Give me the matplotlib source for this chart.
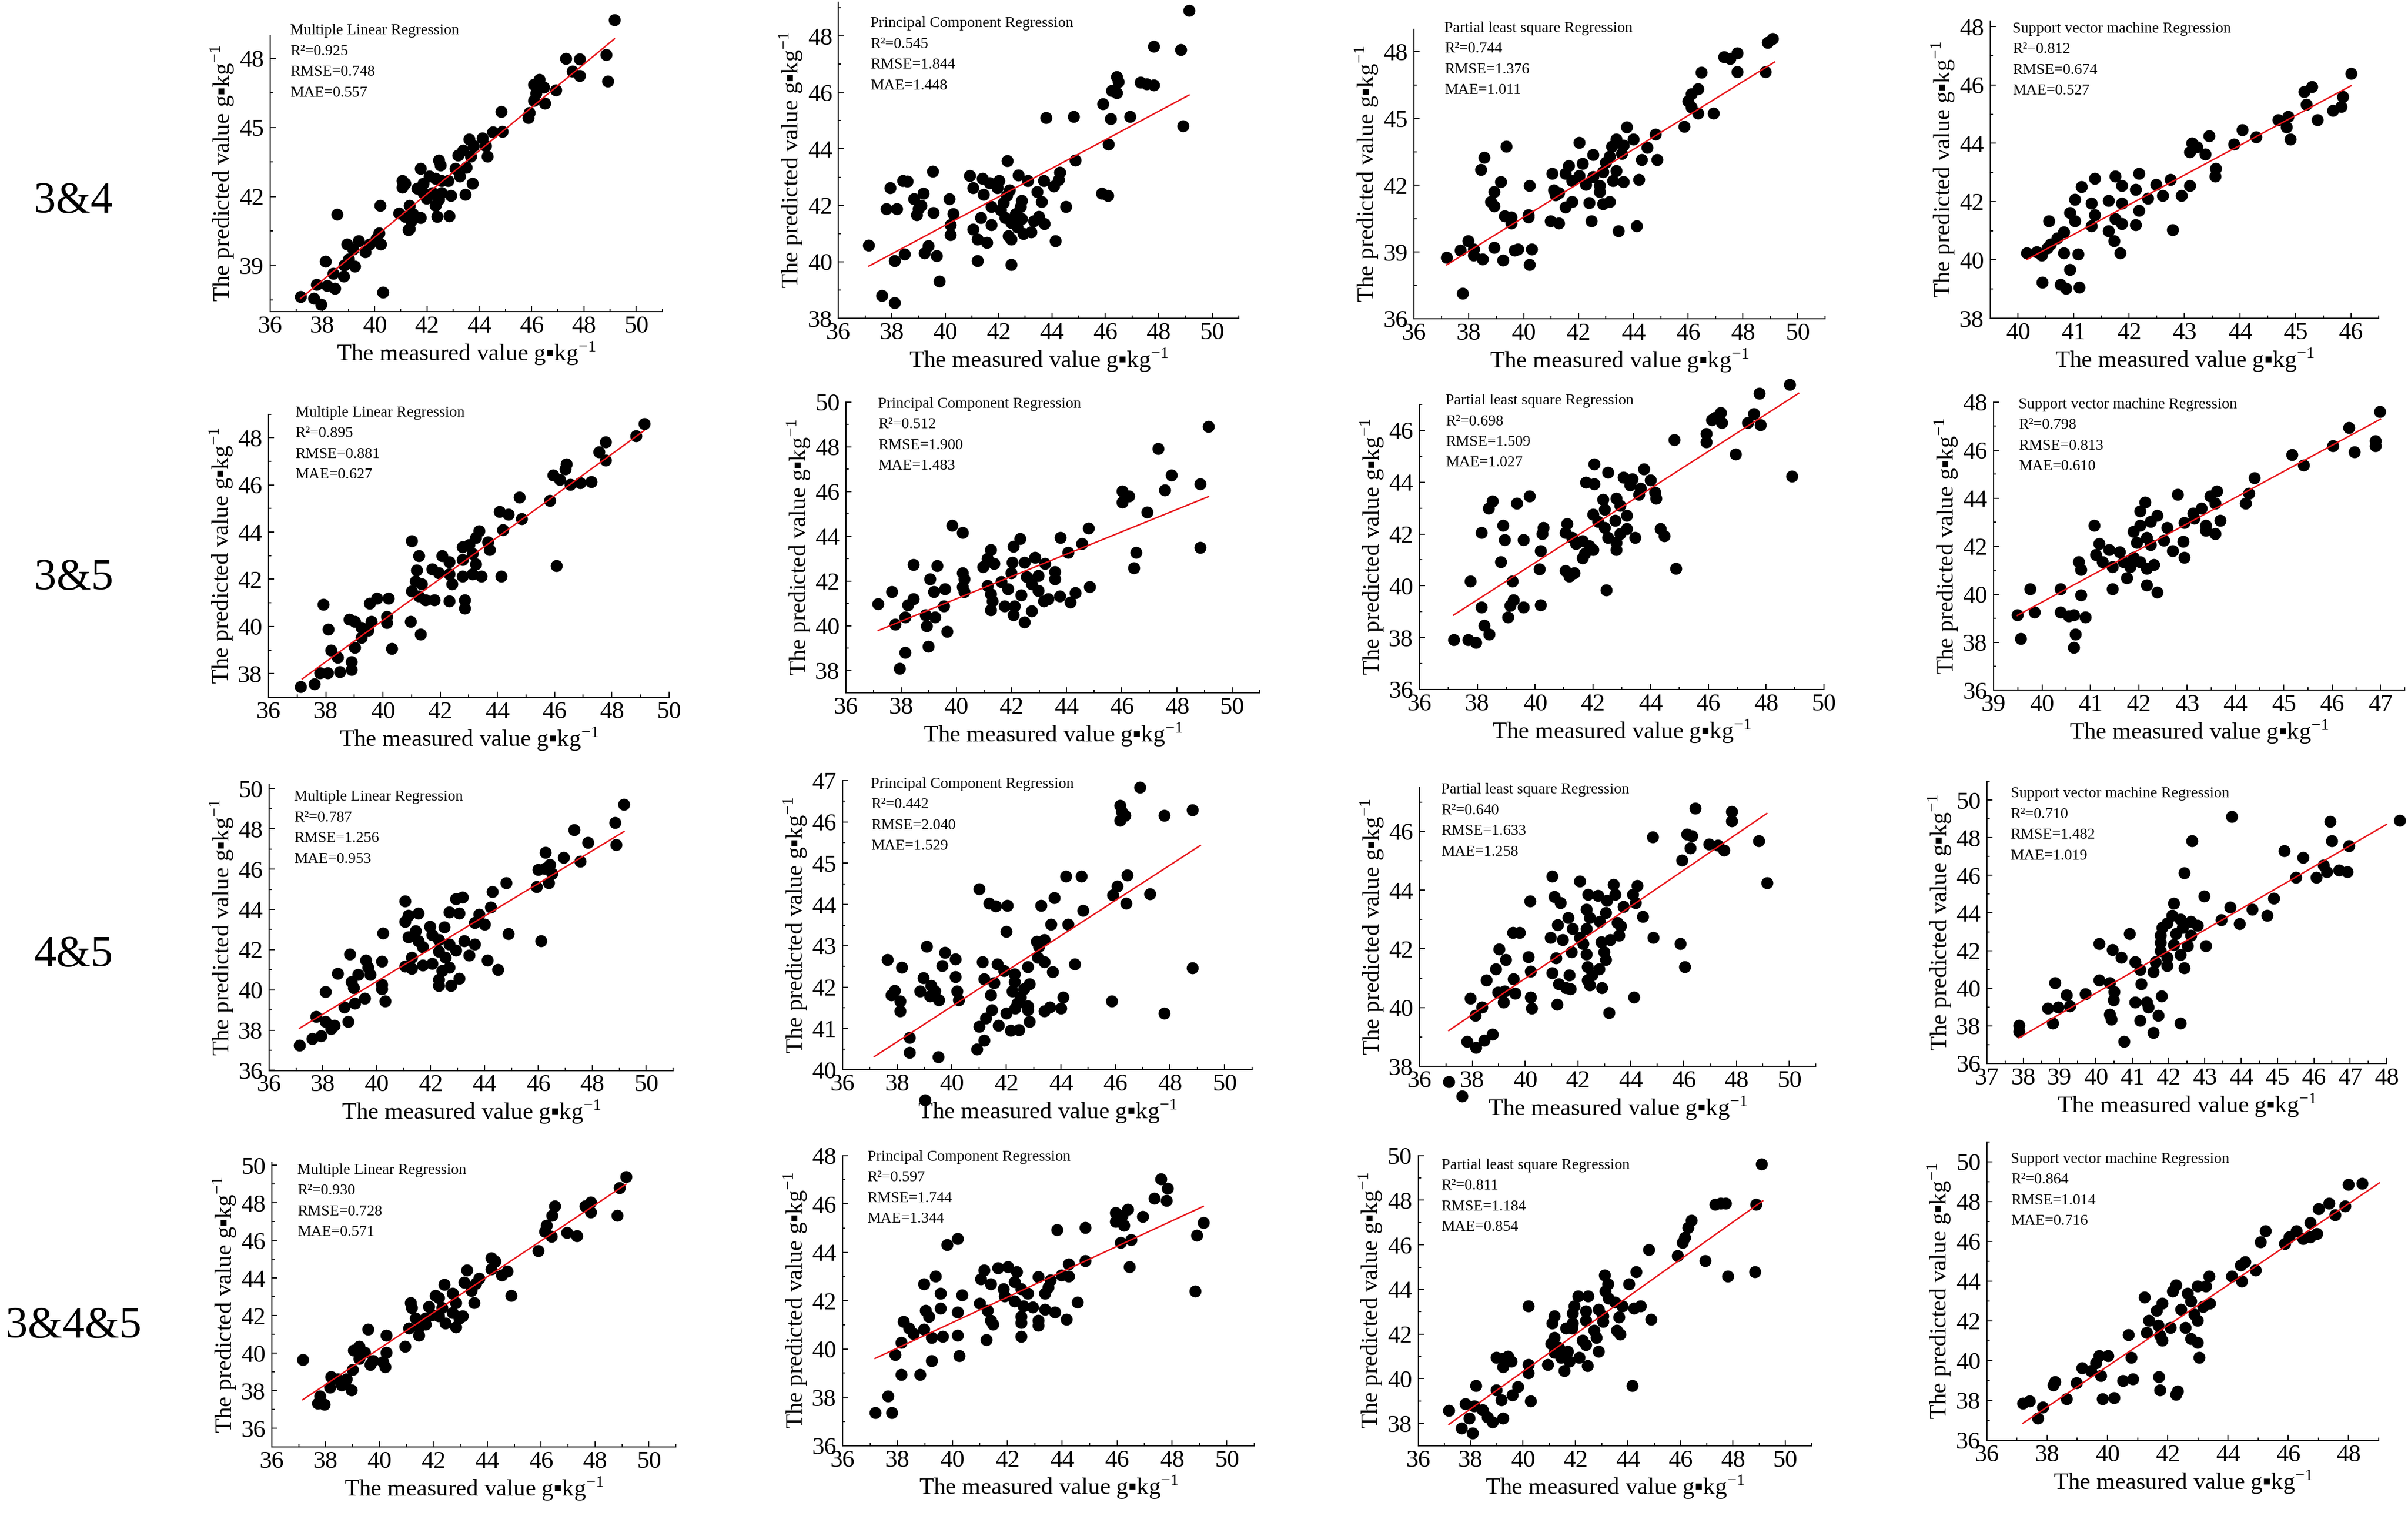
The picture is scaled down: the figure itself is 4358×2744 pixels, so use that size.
import numpy as np
import matplotlib
matplotlib.use('Agg')
import matplotlib.pyplot as plt
from matplotlib.ticker import MultipleLocator

plt.rcParams['font.family'] = ['Liberation Serif', 'DejaVu Serif']
plt.rcParams['mathtext.fontset'] = 'custom'
plt.rcParams['mathtext.rm'] = 'Liberation Serif'
plt.rcParams['mathtext.fallback'] = 'stix'

# ---- measured / predicted points, one list of (measured, predicted) per panel ----
mlr_34 = [[49.17,49.68],[48.86,48.17],[48.91,47.00],[47.32,48.00],[47.83,47.96],[47.57,47.45],[47.84,47.24],[46.93,46.62],[46.23,46.92],[46.08,46.87],[46.29,47.08],[46.47,46.74],[46.17,46.49],[46.08,46.18],[46.50,46.04],[45.92,45.65],[45.88,45.43],[44.83,45.68],[44.89,44.83],[44.52,44.80],[44.13,44.53],[44.25,44.19],[43.61,44.48],[43.79,44.21],[44.31,43.74],[43.38,44.00],[43.20,43.79],[43.67,43.74],[43.50,43.26],[43.09,43.21],[43.26,42.89],[43.75,42.57],[43.47,42.09],[42.45,43.58],[42.51,43.37],[41.75,43.21],[42.10,42.89],[42.33,42.78],[42.56,42.68],[42.80,42.68],[41.87,42.57],[41.63,42.36],[41.87,42.15],[42.21,42.15],[42.56,42.15],[42.91,42.04],[41.98,41.93],[42.45,41.88],[42.33,41.62],[41.05,42.68],[41.17,42.57],[41.05,42.41],[41.34,41.62],[40.21,41.62],[38.56,41.22],[40.93,41.28],[41.17,41.14],[41.45,41.25],[41.75,41.09],[41.40,40.93],[42.39,41.14],[42.85,41.16],[41.28,40.56],[41.34,40.61],[40.17,40.40],[40.23,39.92],[40.06,40.18],[38.95,39.92],[39.39,40.08],[39.18,39.71],[39.65,39.60],[39.82,39.92],[39.01,39.28],[39.24,38.97],[38.83,39.02],[38.13,39.18],[38.42,38.65],[38.81,38.54],[37.78,38.17],[38.19,38.12],[38.48,38.01],[40.32,37.85],[37.17,37.64],[37.67,37.57],[37.96,37.32]]
pcr_34 = [[49.14,48.91],[47.81,47.63],[48.84,47.52],[46.43,46.55],[46.50,46.37],[46.24,46.07],[46.43,45.98],[47.32,46.35],[47.55,46.30],[47.81,46.26],[45.92,45.59],[46.20,45.07],[46.92,45.14],[44.81,45.14],[43.78,45.10],[48.92,44.81],[46.12,44.16],[44.87,43.60],[42.32,43.58],[44.30,43.17],[44.25,42.91],[44.07,42.68],[43.70,42.87],[45.87,42.43],[46.10,42.35],[44.52,41.96],[43.61,42.13],[43.44,42.48],[42.75,43.06],[43.10,42.87],[42.87,42.17],[42.82,41.96],[42.41,42.54],[42.01,42.87],[41.96,42.61],[42.30,42.35],[42.18,42.09],[42.07,41.83],[42.24,41.57],[42.47,41.39],[42.64,41.70],[42.87,41.52],[42.70,41.22],[42.93,41.00],[43.21,41.05],[43.33,41.44],[43.50,41.61],[43.72,41.35],[41.73,41.96],[41.73,41.31],[41.33,41.57],[41.56,40.68],[41.21,40.79],[41.04,41.15],[41.04,42.61],[40.93,43.04],[41.39,42.95],[41.67,42.80],[41.44,42.39],[42.36,40.92],[42.47,40.79],[44.12,40.74],[41.21,40.03],[42.47,39.90],[40.16,42.22],[40.30,41.70],[40.19,41.31],[40.19,40.96],[39.53,43.21],[39.56,41.74],[39.18,42.43],[39.10,42.00],[38.82,42.22],[38.93,41.65],[38.99,41.87],[38.42,42.88],[38.57,42.85],[37.93,42.62],[37.79,41.87],[38.19,41.87],[39.37,40.57],[39.22,40.31],[38.48,40.27],[38.11,40.03],[39.67,40.22],[37.14,40.59],[39.79,39.32],[37.62,38.81],[38.11,38.55]]
pls_34 = [[49.08,48.57],[48.91,48.41],[48.83,47.09],[47.79,47.93],[47.54,47.69],[47.30,47.75],[47.79,47.09],[46.48,47.07],[46.36,46.32],[46.11,46.10],[45.99,45.77],[46.11,45.50],[46.36,45.22],[46.93,45.22],[45.86,44.64],[44.80,44.29],[44.50,43.69],[43.76,44.62],[44.00,44.07],[43.38,44.07],[43.63,43.80],[43.21,43.74],[44.87,43.14],[44.30,43.14],[42.02,43.91],[42.52,43.36],[43.14,43.30],[43.58,43.41],[43.00,43.03],[43.38,42.64],[41.65,42.86],[42.15,42.97],[41.03,42.53],[41.53,42.53],[42.02,42.42],[42.52,42.37],[42.89,42.59],[41.77,42.20],[42.27,42.04],[42.77,41.98],[43.26,42.20],[43.63,42.15],[44.20,42.26],[42.77,41.71],[41.10,41.77],[41.28,41.66],[41.15,41.55],[41.77,41.27],[41.53,41.00],[42.39,41.22],[42.89,41.16],[43.14,41.27],[42.47,40.39],[40.98,40.39],[41.28,40.28],[43.46,39.95],[44.13,40.17],[40.21,41.98],[39.17,42.15],[38.92,41.71],[38.80,41.27],[38.92,41.05],[39.30,40.61],[39.54,40.56],[39.54,40.28],[40.16,40.67],[40.16,40.56],[38.55,43.25],[38.43,42.70],[39.37,43.74],[37.98,39.51],[37.68,39.08],[38.18,39.13],[38.18,38.86],[38.50,38.69],[38.92,39.19],[39.25,38.64],[39.67,39.08],[39.79,39.13],[40.29,39.13],[40.21,38.42],[37.19,38.75],[37.76,37.15]]
svm_34 = [[46.00,46.40],[45.85,45.59],[45.82,45.26],[45.67,45.13],[45.30,45.93],[45.16,45.76],[45.20,45.34],[45.39,44.80],[44.87,44.92],[44.69,44.80],[44.84,44.55],[44.91,44.13],[44.04,44.46],[44.29,44.21],[43.89,43.96],[43.44,44.25],[43.13,44.00],[43.22,43.88],[43.10,43.71],[43.37,43.63],[43.56,43.13],[43.55,42.87],[43.10,42.54],[42.95,42.21],[42.75,42.75],[42.49,42.58],[42.18,42.96],[41.75,42.87],[41.38,42.79],[41.87,42.54],[42.12,42.41],[42.61,42.21],[42.34,42.12],[41.14,42.50],[41.02,42.08],[41.32,41.95],[41.63,42.04],[41.87,41.95],[42.18,41.70],[41.38,41.54],[41.75,41.41],[41.87,41.24],[42.12,41.20],[41.32,41.16],[41.63,40.99],[41.02,41.33],[40.93,41.62],[40.56,41.33],[42.79,41.04],[40.83,40.95],[40.71,40.74],[40.59,40.53],[40.53,40.41],[40.16,40.24],[40.34,40.28],[40.43,40.16],[40.83,40.24],[41.08,40.20],[41.73,40.66],[41.84,40.24],[40.93,39.66],[40.44,39.24],[40.77,39.15],[40.86,39.03],[41.10,39.07]]

mlr_35 = [[49.13,48.60],[48.85,48.08],[47.79,47.82],[47.55,47.41],[47.79,47.05],[46.42,46.89],[46.38,46.68],[45.95,46.42],[46.19,46.22],[46.54,46.01],[46.89,46.08],[47.29,46.14],[45.84,45.33],[44.78,45.49],[44.07,44.87],[44.38,44.76],[44.85,44.56],[44.19,44.09],[43.36,44.04],[43.25,43.78],[43.67,43.57],[43.72,43.26],[43.01,43.47],[42.78,43.36],[43.13,43.10],[42.07,43.00],[42.31,42.74],[42.78,42.84],[43.25,42.64],[41.01,43.62],[41.25,43.00],[41.18,42.38],[41.72,42.43],[41.95,42.27],[42.31,42.22],[42.78,42.12],[43.13,42.22],[43.44,42.12],[44.14,42.12],[46.07,42.58],[42.42,41.81],[41.13,41.91],[41.36,41.81],[41.01,41.50],[41.25,41.29],[41.48,41.13],[41.79,41.13],[42.31,41.08],[42.85,41.13],[42.85,40.77],[40.19,41.18],[39.79,41.18],[39.53,40.98],[37.91,40.93],[40.14,40.41],[40.14,40.15],[39.60,40.20],[38.82,40.30],[39.01,40.20],[39.25,39.94],[39.48,39.84],[39.25,39.52],[40.96,40.20],[41.32,39.68],[38.09,39.89],[39.01,39.11],[40.31,39.06],[38.19,39.00],[38.42,38.69],[38.89,38.49],[38.89,38.18],[38.49,38.07],[38.07,38.02],[37.79,38.02],[37.60,37.55],[37.13,37.45]]
pcr_35 = [[49.14,48.91],[47.31,47.92],[47.80,46.72],[48.83,46.34],[47.56,46.07],[48.83,43.50],[46.02,46.01],[46.26,45.79],[46.02,45.52],[46.92,45.08],[46.51,43.28],[46.43,42.57],[44.80,44.37],[44.55,43.66],[44.06,43.28],[43.77,43.93],[44.84,41.75],[44.31,41.48],[44.14,41.04],[43.75,41.31],[43.58,42.40],[43.58,42.08],[43.33,41.20],[43.21,42.79],[42.84,43.06],[42.47,42.84],[42.30,43.88],[42.06,43.55],[42.03,42.84],[41.99,42.35],[42.55,42.19],[42.72,41.86],[42.96,41.58],[42.35,41.37],[41.86,41.64],[41.62,41.97],[41.25,43.39],[41.13,43.00],[41.37,42.79],[40.96,42.62],[41.13,41.80],[41.25,41.42],[41.30,41.09],[41.25,40.71],[41.74,40.87],[42.11,40.87],[42.06,40.49],[42.72,40.66],[42.47,40.16],[43.16,41.09],[42.96,42.24],[40.23,42.35],[40.28,42.08],[40.23,41.75],[40.28,41.53],[40.23,44.17],[39.84,44.48],[39.59,41.64],[39.54,40.87],[39.30,42.68],[39.05,42.08],[39.18,41.53],[38.88,40.49],[39.23,40.38],[38.93,40.00],[39.66,39.73],[38.98,39.07],[38.44,42.73],[38.44,41.20],[38.25,40.93],[38.15,40.38],[37.78,40.05],[37.66,41.53],[37.17,40.98],[38.15,38.80],[37.95,38.09]]
pls_35 = [[48.82,47.76],[47.76,47.43],[46.42,46.68],[46.24,46.49],[46.12,46.40],[46.47,46.30],[47.58,46.63],[47.36,46.30],[47.81,46.21],[45.93,45.88],[45.93,45.55],[44.82,45.64],[46.94,45.08],[48.89,44.23],[42.05,44.70],[42.52,44.37],[41.76,43.99],[42.05,43.94],[43.06,44.18],[43.36,44.13],[43.76,44.51],[43.99,44.08],[43.29,43.89],[43.65,43.75],[44.16,43.61],[44.19,43.38],[43.60,43.52],[42.82,43.38],[42.35,43.33],[42.94,43.09],[43.18,42.72],[42.42,42.95],[42.00,42.76],[42.19,42.48],[42.78,42.53],[43.18,42.20],[42.42,42.25],[42.52,41.87],[42.94,42.01],[43.46,41.87],[44.35,42.20],[44.47,41.92],[42.82,41.68],[42.82,41.40],[41.11,42.39],[41.06,42.06],[41.29,41.87],[41.41,41.63],[41.65,41.73],[41.88,41.54],[42.00,41.40],[41.65,41.07],[41.72,41.25],[41.06,40.59],[41.36,40.50],[41.18,40.36],[42.47,39.84],[44.87,40.66],[40.28,42.25],[40.24,42.01],[40.19,41.35],[40.16,40.64],[40.19,39.27],[39.81,43.47],[39.36,43.19],[38.52,43.28],[38.40,43.00],[38.89,42.34],[38.14,42.06],[38.94,41.77],[39.60,41.77],[38.82,40.92],[39.22,40.17],[39.25,39.46],[39.13,39.23],[39.60,39.18],[39.06,38.80],[38.14,39.18],[38.24,38.47],[38.42,38.14],[37.76,40.17],[37.18,37.91],[37.69,37.91],[37.95,37.81]]
svm_35 = [[46.99,47.59],[46.35,46.93],[46.89,46.37],[46.89,46.17],[46.01,46.17],[46.46,45.92],[45.17,45.81],[45.41,45.36],[44.39,44.85],[44.28,44.19],[44.21,43.78],[43.62,44.29],[43.48,44.08],[43.58,43.78],[43.30,43.58],[43.13,43.37],[43.15,43.17],[43.39,42.86],[43.68,43.07],[43.39,42.66],[43.58,42.51],[42.80,44.14],[42.13,43.83],[42.03,43.47],[42.38,43.27],[42.24,43.02],[42.94,42.97],[42.59,42.76],[42.03,42.86],[41.89,42.61],[42.17,42.36],[42.52,42.25],[42.92,42.20],[41.96,42.15],[42.24,42.05],[42.70,41.80],[42.94,41.54],[41.08,42.86],[41.18,42.10],[41.39,41.85],[41.61,41.75],[41.11,41.64],[41.25,41.34],[41.68,41.34],[41.89,41.54],[42.03,41.34],[41.46,41.14],[41.82,41.14],[42.31,41.24],[42.17,41.08],[40.76,41.34],[40.80,41.03],[41.75,40.68],[41.46,40.22],[42.17,40.37],[42.38,40.07],[39.75,40.22],[40.38,40.22],[40.80,39.97],[39.49,39.15],[39.85,39.25],[40.38,39.25],[40.55,39.10],[40.66,39.15],[40.90,39.05],[39.56,38.14],[40.69,38.34],[40.66,37.78]]

mlr_45 = [[49.18,49.22],[48.85,48.30],[48.88,47.22],[47.33,47.94],[47.85,47.31],[47.55,46.39],[46.93,46.57],[46.25,46.83],[46.43,46.21],[46.00,45.97],[46.23,46.03],[46.50,45.79],[45.93,45.13],[46.38,45.31],[44.80,45.31],[44.30,44.89],[44.23,44.11],[43.80,43.75],[43.63,43.33],[44.00,43.27],[42.93,44.53],[43.18,44.59],[42.68,43.87],[43.05,43.81],[44.88,42.80],[46.10,42.44],[41.05,44.41],[41.05,43.39],[41.18,43.69],[41.55,43.81],[41.98,43.16],[42.50,43.12],[41.43,42.92],[41.18,42.62],[41.55,42.44],[42.05,42.74],[42.30,42.50],[41.70,42.14],[42.68,42.26],[43.25,42.44],[43.63,42.26],[42.30,41.90],[42.93,41.96],[43.43,41.72],[42.55,41.60],[41.30,41.60],[42.05,41.30],[42.68,41.12],[41.05,41.18],[41.30,41.06],[41.70,41.24],[42.43,40.94],[44.10,41.48],[44.50,41.00],[42.30,40.52],[43.05,40.58],[42.30,40.22],[42.75,40.22],[40.23,42.83],[40.18,41.42],[39.00,41.78],[39.60,41.48],[39.68,41.12],[39.75,40.76],[38.55,40.82],[39.30,40.76],[39.05,40.40],[39.13,40.10],[40.18,40.28],[40.18,40.04],[38.10,39.92],[39.55,39.57],[39.18,39.33],[40.30,39.45],[38.80,39.15],[37.75,38.67],[38.10,38.43],[38.43,38.25],[38.93,38.43],[38.30,38.07],[37.93,37.71],[37.60,37.59],[37.13,37.26]]
pcr_45 = [[46.90,46.84],[46.16,46.40],[46.23,46.25],[46.35,46.16],[46.16,46.04],[47.78,46.16],[48.82,46.29],[44.18,44.68],[44.75,44.69],[46.43,44.71],[46.06,44.44],[45.91,44.23],[46.40,44.03],[47.26,44.26],[44.82,43.85],[41.00,44.38],[41.37,44.03],[41.62,43.96],[42.04,43.98],[43.27,43.97],[43.76,44.16],[41.99,43.35],[43.64,43.52],[44.26,43.52],[43.10,43.11],[43.39,43.15],[43.19,42.99],[39.08,42.99],[39.75,42.84],[40.14,42.68],[39.65,42.51],[37.65,42.67],[38.17,42.48],[41.13,42.61],[41.67,42.55],[41.92,42.40],[42.29,42.31],[42.78,42.49],[43.15,42.72],[43.39,42.61],[43.69,42.37],[44.50,42.56],[48.82,42.46],[40.14,42.25],[41.18,42.19],[41.55,42.10],[42.29,42.13],[42.85,42.07],[42.65,41.95],[38.96,42.22],[39.25,42.04],[38.83,41.90],[37.90,41.92],[37.78,41.81],[39.38,41.90],[39.20,41.78],[39.52,41.69],[40.19,41.90],[40.26,41.69],[42.21,41.90],[42.53,41.75],[41.42,41.81],[44.08,41.75],[45.86,41.66],[38.10,41.66],[38.10,41.42],[42.41,41.60],[42.78,41.54],[41.47,41.45],[41.99,41.36],[42.33,41.48],[42.78,41.45],[43.39,41.42],[43.59,41.51],[44.01,41.48],[47.78,41.37],[41.25,41.24],[41.00,41.04],[41.72,41.07],[42.16,40.95],[42.46,40.96],[42.85,41.16],[41.18,40.71],[40.93,40.50],[38.46,40.77],[38.46,40.41],[39.50,40.31],[39.01,39.26]]
pls_45 = [[46.44,46.79],[47.81,46.68],[47.81,46.35],[46.13,45.91],[46.31,45.85],[44.82,45.81],[46.26,45.43],[46.96,45.56],[47.29,45.52],[47.52,45.35],[48.84,45.68],[45.93,45.02],[49.15,44.24],[41.03,44.47],[42.06,44.31],[41.10,43.77],[41.34,43.56],[40.18,43.62],[42.39,43.85],[42.75,43.81],[43.35,44.18],[43.40,43.85],[44.25,44.16],[44.07,43.85],[43.09,43.64],[43.73,43.43],[44.17,43.56],[42.32,43.35],[43.04,43.23],[42.45,43.06],[42.83,42.93],[44.46,43.10],[41.62,43.06],[41.23,42.81],[43.48,42.89],[43.61,42.77],[43.56,42.45],[41.80,42.68],[42.32,42.68],[40.95,42.39],[41.41,42.31],[42.06,42.39],[42.19,42.18],[42.88,42.23],[43.22,42.31],[44.84,42.39],[45.87,42.18],[39.79,42.56],[39.53,42.56],[39.02,41.98],[39.27,41.64],[40.12,41.73],[41.16,41.68],[41.75,41.89],[42.32,41.81],[42.99,41.89],[43.04,41.64],[42.37,41.39],[42.80,41.31],[42.52,41.10],[46.05,41.38],[38.89,41.31],[40.20,41.23],[41.03,41.18],[41.67,41.10],[42.37,40.93],[38.53,40.93],[39.56,40.98],[41.28,40.81],[41.54,40.68],[42.45,40.77],[41.72,40.64],[42.91,40.68],[38.97,40.52],[39.22,40.56],[39.61,40.48],[39.17,40.18],[40.20,40.35],[40.25,39.98],[41.21,40.10],[44.12,40.35],[43.17,39.83],[37.93,40.31],[38.37,40.02],[38.11,39.73],[38.76,39.10],[38.45,38.89],[37.80,38.85],[38.14,38.64],[37.11,37.48],[37.62,36.98]]
svm_45 = [[48.36,48.91],[43.74,49.13],[46.45,48.87],[46.49,47.83],[42.65,47.83],[46.97,47.57],[45.19,47.31],[45.70,46.96],[42.43,46.14],[45.51,45.88],[46.07,45.88],[46.35,46.20],[46.26,46.53],[46.69,46.27],[46.92,46.20],[44.90,44.77],[42.98,44.90],[44.71,43.86],[44.30,44.19],[43.70,44.32],[43.45,43.63],[43.96,43.44],[42.15,44.51],[42.09,43.86],[42.33,43.67],[41.83,43.21],[41.96,43.47],[42.61,43.54],[42.80,43.34],[42.39,43.21],[41.77,42.82],[42.20,42.89],[42.61,42.82],[40.93,42.89],[41.77,42.43],[42.15,42.30],[42.52,42.24],[43.02,42.24],[40.09,42.37],[40.46,42.04],[40.69,41.65],[41.77,41.98],[41.96,41.65],[42.33,41.78],[41.08,41.39],[41.64,41.39],[41.96,41.20],[42.43,41.07],[41.21,41.00],[41.58,40.87],[40.09,40.42],[40.37,40.29],[41.25,40.22],[40.50,39.83],[39.71,39.70],[39.19,39.64],[38.87,40.29],[40.48,39.38],[41.81,39.57],[39.28,39.06],[38.68,38.93],[38.96,39.00],[41.08,39.25],[41.40,39.25],[41.45,39.00],[40.37,38.60],[40.42,38.34],[38.81,38.15],[41.21,38.28],[41.71,38.54],[42.33,38.15],[41.58,37.63],[40.78,37.17],[37.88,38.02],[37.88,37.69]]

mlr_345 = [[49.15,49.38],[48.90,48.80],[48.83,47.34],[47.63,47.83],[47.83,48.03],[47.83,47.51],[46.50,47.83],[46.40,47.32],[46.20,46.80],[46.13,46.48],[46.38,46.22],[46.95,46.42],[47.33,46.25],[45.90,45.45],[44.15,45.06],[44.28,44.87],[44.75,44.35],[44.53,44.16],[44.88,43.06],[44.15,44.48],[43.70,43.97],[43.58,43.71],[43.15,43.77],[43.25,44.42],[43.40,43.32],[43.50,42.68],[42.40,43.64],[42.70,43.19],[42.20,42.94],[42.08,43.06],[41.83,42.48],[42.33,42.42],[42.83,42.68],[42.70,42.16],[43.08,41.97],[42.95,41.84],[41.15,42.68],[41.20,42.42],[41.33,41.84],[41.70,41.84],[41.95,42.03],[42.20,41.97],[42.45,41.58],[41.45,41.39],[41.70,41.52],[41.08,41.32],[41.45,40.94],[42.83,41.39],[40.95,40.36],[39.58,41.26],[40.25,40.94],[40.25,40.03],[39.25,40.36],[39.03,40.16],[39.45,40.03],[39.25,39.71],[39.75,39.58],[40.13,39.52],[39.65,39.39],[39.00,39.13],[40.20,39.26],[37.15,39.65],[38.20,38.75],[38.45,38.62],[38.78,38.62],[38.15,38.17],[38.58,38.29],[38.95,38.04],[38.70,38.36],[37.78,37.71],[37.70,37.33],[37.95,37.26]]
pcr_345 = [[47.59,47.04],[47.84,46.64],[47.79,46.13],[47.35,46.23],[46.93,45.47],[46.39,45.78],[45.95,45.64],[46.19,45.52],[45.95,45.27],[46.24,45.12],[49.14,45.22],[48.90,44.71],[43.81,44.92],[44.84,45.02],[46.12,44.41],[46.51,44.51],[46.44,43.40],[48.85,42.39],[40.18,44.56],[39.81,44.31],[44.84,43.65],[44.23,43.50],[43.98,43.05],[44.23,43.00],[43.12,42.99],[43.57,42.84],[43.49,42.54],[43.37,42.29],[41.16,43.25],[41.65,43.35],[42.02,43.40],[42.34,43.20],[41.04,42.89],[41.40,42.69],[41.85,42.49],[42.26,42.79],[42.51,42.49],[42.75,42.29],[41.90,42.19],[42.26,41.99],[42.58,41.78],[42.92,41.73],[43.37,41.63],[43.74,41.53],[44.16,41.23],[44.55,41.93],[40.99,41.88],[41.28,41.58],[41.40,41.18],[41.48,41.02],[42.51,41.33],[42.51,41.08],[43.12,40.97],[43.12,41.18],[42.51,40.52],[41.23,40.37],[40.35,42.24],[40.18,41.53],[38.95,42.69],[39.39,43.00],[39.56,42.29],[39.02,41.58],[39.14,41.33],[39.56,41.68],[38.21,41.13],[38.41,40.87],[38.58,40.62],[38.95,40.82],[39.24,40.47],[39.64,40.52],[40.18,40.57],[38.14,40.27],[40.25,39.71],[37.92,39.76],[39.24,39.51],[38.14,38.95],[38.82,38.95],[37.65,38.04],[37.18,37.37],[37.79,37.37]]
pls_345 = [[49.09,49.62],[48.89,47.81],[47.54,47.86],[47.33,47.81],[47.72,47.86],[46.42,47.10],[46.29,46.77],[46.16,46.33],[46.09,46.11],[44.79,45.78],[45.90,45.51],[46.94,45.29],[47.80,44.58],[48.83,44.79],[43.10,44.63],[43.23,44.25],[44.30,44.79],[44.04,44.25],[43.13,43.92],[43.26,43.59],[43.52,43.42],[42.09,43.70],[42.48,43.70],[40.20,43.26],[43.78,43.26],[44.22,43.15],[44.48,43.26],[41.96,43.26],[41.89,42.93],[42.40,43.04],[42.87,43.10],[43.05,42.82],[43.65,42.77],[41.19,42.82],[41.11,42.49],[44.87,42.66],[41.89,42.49],[42.40,42.60],[43.05,42.55],[41.63,42.27],[41.86,42.27],[42.71,42.16],[43.57,42.16],[43.70,42.00],[41.19,41.84],[41.06,41.56],[42.27,41.73],[42.40,41.51],[42.79,41.84],[41.37,41.40],[41.70,41.23],[41.19,41.18],[42.87,41.23],[38.98,40.96],[39.24,40.90],[39.42,41.01],[39.55,40.79],[41.44,40.96],[41.76,40.79],[42.14,40.96],[42.46,40.58],[39.24,40.52],[40.20,40.63],[40.93,40.63],[41.57,40.36],[40.20,40.25],[38.20,39.70],[39.81,39.64],[44.17,39.70],[38.98,39.48],[39.60,39.26],[39.16,39.04],[40.28,38.99],[37.17,38.57],[37.79,38.88],[38.13,38.77],[38.46,38.60],[38.64,38.27],[39.24,38.24],[38.83,38.05],[37.94,38.22],[37.66,37.78],[38.07,37.56]]
svm_345 = [[48.45,48.92],[48.00,48.86],[47.89,47.79],[47.35,47.91],[47.55,47.32],[47.01,47.63],[46.72,46.95],[46.94,46.40],[46.72,46.21],[46.26,46.52],[46.49,46.15],[46.04,46.21],[45.88,45.90],[45.25,46.52],[45.07,45.97],[44.57,44.98],[44.41,44.80],[44.91,44.55],[44.12,44.24],[44.46,44.00],[43.38,44.24],[43.26,43.75],[42.99,43.75],[42.27,43.81],[42.16,43.50],[42.65,43.38],[43.40,42.89],[43.17,42.71],[42.77,43.01],[41.23,43.20],[41.82,42.89],[41.64,42.52],[42.43,42.58],[42.88,42.34],[41.37,42.03],[41.68,41.78],[42.09,41.66],[42.59,41.66],[42.99,42.03],[41.30,41.41],[41.75,41.29],[41.82,41.04],[40.69,41.31],[42.77,41.10],[42.99,40.92],[43.04,40.18],[40.78,40.18],[39.72,40.24],[40.02,40.24],[39.61,39.88],[39.16,39.63],[39.45,39.51],[39.79,39.26],[38.98,38.89],[38.26,38.95],[38.21,38.77],[40.51,39.01],[40.85,39.08],[41.71,39.20],[41.75,38.52],[42.32,38.46],[42.27,38.31],[39.83,38.09],[40.22,38.15],[38.64,38.09],[37.20,37.85],[37.42,37.97],[37.85,37.66],[37.69,37.11]]

band_labels = ['3&4', '3&5', '4&5', '3&4&5']
methods = ['Multiple Linear Regression', 'Principal Component Regression',
           'Partial least square Regression', 'Support vector machine Regression']
r2_values = [[0.925, 0.545, 0.744, 0.812],
             [0.895, 0.512, 0.698, 0.798],
             [0.787, 0.442, 0.640, 0.710],
             [0.930, 0.597, 0.811, 0.864]]
rmse_values = [[0.748, 1.844, 1.376, 0.674],
               [0.881, 1.900, 1.509, 0.813],
               [1.256, 2.040, 1.633, 1.482],
               [0.728, 1.744, 1.184, 1.014]]
mae_values = [[0.557, 1.448, 1.011, 0.527],
              [0.627, 1.483, 1.027, 0.610],
              [0.953, 1.529, 1.258, 1.019],
              [0.571, 1.344, 0.854, 0.716]]
# fitted lines: slope, intercept and measured range
fit_slope = [[0.940, 0.505, 0.761, 1.020],
             [0.881, 0.500, 0.716, 1.088],
             [0.811, 0.428, 0.614, 1.120],
             [0.956, 0.526, 0.837, 1.022]]
fit_intercept = [[2.63, 21.09, 10.12, -0.95],
                 [5.02, 21.20, 12.25, -3.85],
                 [7.98, 24.41, 16.43, -5.06],
                 [2.00, 20.05, 6.84, -1.16]]
fit_range = [[(37.17, 49.17), (37.14, 49.14), (37.19, 49.16), (40.16, 46.00)],
             [(37.18, 49.13), (37.17, 49.14), (37.18, 49.13), (39.49, 47.00)],
             [(37.13, 49.18), (37.16, 49.11), (37.11, 49.15), (37.88, 48.00)],
             [(37.15, 49.15), (37.18, 49.14), (37.17, 49.14), (37.20, 49.02)]]

panels = [[mlr_34, pcr_34, pls_34, svm_34],
          [mlr_35, pcr_35, pls_35, svm_35],
          [mlr_45, pcr_45, pls_45, svm_45],
          [mlr_345, pcr_345, pls_345, svm_345]]

# ---- layout (pixels in a 4358 x 2744 canvas) ----
W, H = 4358, 2744
axes_px = [[(488.6, 64, 1198.7, 564), (1517.4, 3.7, 2241.8, 576), (2559.3, 53, 3303, 577), (3601.9, 37.6, 4305, 576)],
           [(486, 749.7, 1210.7, 1261.9), (1531, 727.6, 2280, 1254), (2569, 732, 3300.6, 1248), (3608, 727.6, 4352, 1249.5)],
           [(487, 1420, 1218, 1937.5), (1525, 1413, 2265.5, 1936), (2569, 1425, 3286, 1930), (3596, 1414, 4319, 1925)],
           [(492, 2104, 1223, 2619), (1525, 2091.6, 2270, 2616.6), (2566.6, 2091.6, 3278.5, 2616.6), (3595.7, 2067, 4305, 2607)]]
xlims = [[(36, 51), (36, 51), (36, 51), (39.5, 46.5)],
         [(36, 50), (36, 51), (36, 50), (39, 47.5)],
         [(36, 51), (36, 51), (36, 51), (37, 48)],
         [(36, 51), (36, 51), (36, 51), (36, 49)]]
ylims = [[(37, 49), (38, 49.2), (36, 49), (38, 48.2)],
         [(37, 49), (37, 50), (36, 47), (36, 48)],
         [(36, 50.2), (40, 47), (38, 47.5), (36, 51)],
         [(35, 50.15), (36, 48), (37, 50), (36, 51)]]
x_steps = [[(2, 1), (2, 1), (2, 1), (1, 0.5)],
           [(2, 1), (2, 1), (2, 1), (1, 0.5)],
           [(2, 1), (2, 1), (2, 1), (1, 0.5)],
           [(2, 1), (2, 1), (2, 1), (2, 1)]]
y_steps = [[(3, 1.5), (2, 1), (3, 1.5), (2, 1)],
           [(2, 1), (2, 1), (2, 1), (2, 1)],
           [(2, 1), (1, 0.5), (2, 1), (2, 1)],
           [(2, 1), (2, 1), (2, 1), (2, 1)]]
text_anchor = [[(0.051, 1.004), (0.080, 0.920), (0.074, 0.991), (0.057, 0.961)],
               [(0.067, 0.992), (0.078, 0.981), (0.064, 1.000), (0.061, 0.979)],
               [(0.062, 0.943), (0.069, 0.976), (0.055, 0.978), (0.059, 0.943)],
               [(0.063, 0.960), (0.060, 0.983), (0.059, 0.954), (0.061, 0.930)]]
band_label_px = [(133, 366), (133, 1048), (133, 1729), (133, 2401)]

unit = r'g▪kg$^{\mathregular{-1}}$'

fig = plt.figure(figsize=(W / 100, H / 100), dpi=100)

for i in range(4):
    for j in range(4):
        l, t, r, b = axes_px[i][j]
        ax = fig.add_axes([l / W, 1 - b / H, (r - l) / W, (b - t) / H])
        pts = np.array(panels[i][j])
        ax.scatter(pts[:, 0], pts[:, 1], s=245, c='black', linewidths=0,
                   clip_on=False, zorder=3)
        xs = np.array(fit_range[i][j])
        ax.plot(xs, fit_slope[i][j] * xs + fit_intercept[i][j], color='#e8161b',
                lw=1.9, zorder=4, clip_on=False)

        ax.set_xlim(*xlims[i][j])
        ax.set_ylim(*ylims[i][j])
        ax.xaxis.set_major_locator(MultipleLocator(x_steps[i][j][0]))
        ax.xaxis.set_minor_locator(MultipleLocator(x_steps[i][j][1]))
        ax.yaxis.set_major_locator(MultipleLocator(y_steps[i][j][0]))
        ax.yaxis.set_minor_locator(MultipleLocator(y_steps[i][j][1]))
        ax.tick_params(which='both', direction='in', width=1.4, labelsize=32)
        ax.tick_params(which='major', length=7)
        ax.tick_params(which='minor', length=3.6)
        ax.tick_params(axis='x', pad=5)
        ax.tick_params(axis='y', pad=8)
        for side in ('top', 'right'):
            ax.spines[side].set_visible(False)
        for side in ('left', 'bottom'):
            ax.spines[side].set_linewidth(1.5)
        ax.patch.set_alpha(0)

        ax.set_xlabel('The measured value ' + unit, fontsize=31, labelpad=3)
        ax.set_ylabel('The predicted value ' + unit, fontsize=31, labelpad=4)

        fx, fy = text_anchor[i][j]
        lines = [methods[j],
                 'R²={:.3f}'.format(r2_values[i][j]),
                 'RMSE={:.3f}'.format(rmse_values[i][j]),
                 'MAE={:.3f}'.format(mae_values[i][j])]
        for k, line in enumerate(lines):
            ax.annotate(line, xy=(fx, fy), xycoords='axes fraction',
                        xytext=(0, -27 * k), textcoords='offset points',
                        fontsize=20, va='baseline', ha='left', annotation_clip=False)

for label, (px, py) in zip(band_labels, band_label_px):
    fig.text(px / W, 1 - py / H, label, fontsize=58, ha='center', va='center')

fig.savefig('out.png', dpi=100)
